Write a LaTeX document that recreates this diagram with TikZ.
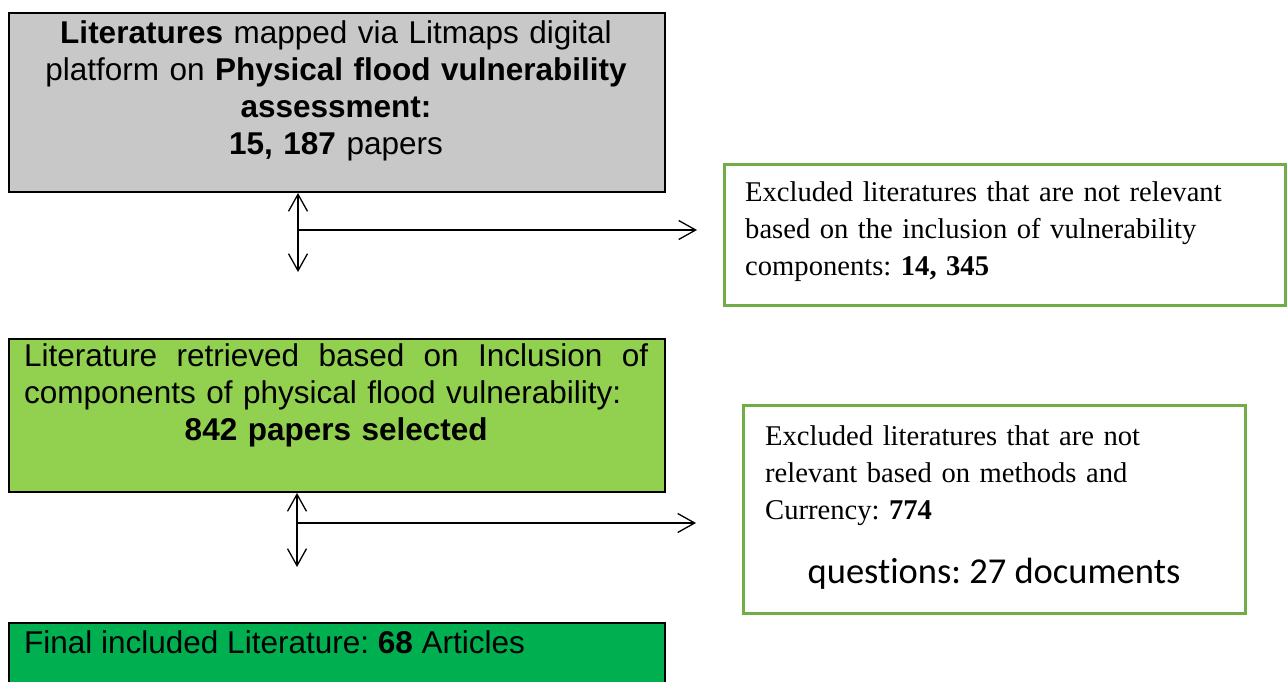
\documentclass[tikz,border=0pt]{standalone}
\usepackage{fontspec}
\setmainfont{Liberation Sans}
\newfontfamily\timesfont{Liberation Serif}
\newfontfamily\calibrifont[Ligatures=NoCommon]{Carlito}
\usetikzlibrary{arrows.meta}
\definecolor{boxgray}{HTML}{C8C8C8}
\definecolor{lightgreen}{HTML}{92D050}
\definecolor{darkgreen}{HTML}{00B050}
\definecolor{framegreen}{HTML}{70AD47}
\frenchspacing
\begin{document}
\begin{tikzpicture}[x=1pt,y=-1pt,
  stagebox/.style={draw=black, line width=2pt, anchor=north west, inner sep=0pt, rectangle},
  excludebox/.style={draw=framegreen, line width=2.5pt, fill=white, anchor=north west, inner sep=0pt, rectangle},
  sanstext/.style={font=\fontsize{31.5}{37}\selectfont, inner sep=0pt},
  seriftext/.style={font=\timesfont\fontsize{28.6}{37}\selectfont, inner sep=0pt, align=left, anchor=north west},
  flow/.style={line width=1.3pt, -{Straight Barb[length=17pt,width=19pt]}},
  twoway/.style={line width=1.3pt, {Straight Barb[length=17pt,width=19pt]}-{Straight Barb[length=17pt,width=19pt]}},
  ]
\useasboundingbox (0,0) rectangle (1287,682);

% stage boxes on the left
\node[stagebox, fill=boxgray, minimum width=656pt, minimum height=179pt] (mapped) at (8,12) {};
\node[stagebox, fill=lightgreen, minimum width=656pt, minimum height=153pt] (retrieved) at (8,338) {};
\node[stagebox, fill=darkgreen, minimum width=656pt, minimum height=80pt] (final) at (8,622) {};

% exclusion boxes on the right
\node[excludebox, minimum width=561pt, minimum height=141pt] (excl1) at (723,163) {};
\node[excludebox, minimum width=502pt, minimum height=208pt] (excl2) at (742,404) {};

% texts of the stage boxes
\node[sanstext, anchor=north, text width=640pt, align=center] (mappedtext) at (336,20)
  {\textbf{Literatures} mapped via Litmaps digital\\
   platform on \textbf{Physical flood vulnerability}\\
   \textbf{assessment:}\\
   \textbf{15, 187} papers};
\node[sanstext, anchor=north west, text width=624pt, align=left] (retrievedtext) at (24,343)
  {\hbox to 624pt{Literature\hfill retrieved\hfill based\hfill on\hfill Inclusion\hfill of}\\
   components of physical flood vulnerability:\\
   \hbox to 624pt{\hfill\bfseries 842 papers selected\hfill}};
\node[sanstext, anchor=base west] (finaltext) at (24,653)
  {Final included Literature: \textbf{68} Articles};

% texts of the exclusion boxes
\node[seriftext, text width=530pt] (excl1text) at (745,181)
  {Excluded literatures that are not relevant\\
   based on the inclusion of vulnerability\\
   components: \textbf{14, 345}};
\node[seriftext, text width=470pt] (excl2text) at (765,425)
  {Excluded literatures that are not\\
   relevant based on methods and\\
   Currency: \textbf{774}};
\node[inner sep=0pt, anchor=base, font=\calibrifont\fontsize{36.5}{40}\selectfont] (excl2extra) at (994,583)
  {questions: 27 documents};

% connectors
\coordinate (fork1) at (298,230);
\coordinate (down1) at (298,272);
\coordinate (out1) at (697,230);
\coordinate (fork2) at (297,523);
\coordinate (down2) at (297,567);
\coordinate (out2) at (696,523);

\draw[twoway] (mapped.south -| fork1) -- (down1);
\draw[flow] (fork1) -- (out1);
\draw[twoway] (retrieved.south -| fork2) -- (down2);
\draw[flow] (fork2) -- (out2);
\end{tikzpicture}
\end{document}
